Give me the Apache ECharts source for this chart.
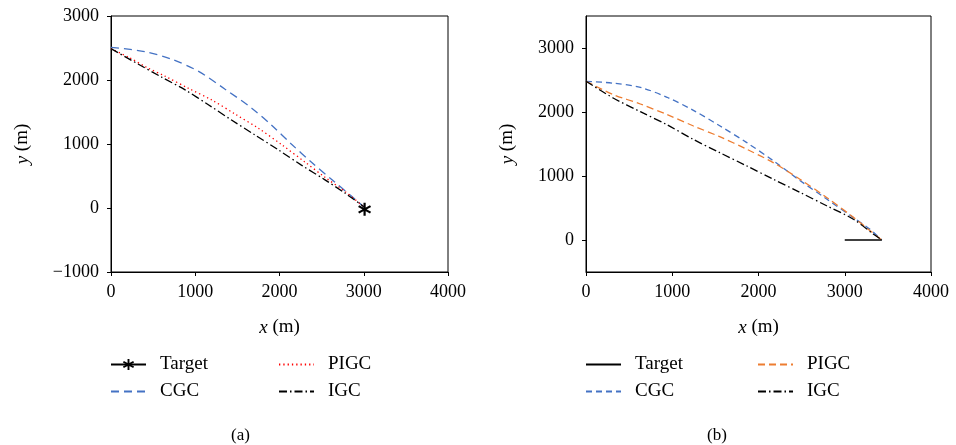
<!DOCTYPE html>
<html>
<head>
<meta charset="utf-8">
<script src="https://cdn.jsdelivr.net/npm/echarts@6/dist/echarts.min.js"></script>
<style>
  html, body { margin: 0; padding: 0; background: #fff; }
  #main { width: 956px; height: 445px; }
</style>
</head>
<body>
<div id="main"></div>
<script>
// panel (a)
var cgcAx = [0, 400, 720, 1040, 1350, 1670, 1910, 2140, 2380, 2620, 2860, 3000];
var cgcAy = [2510, 2445, 2325, 2135, 1860, 1560, 1290, 1000, 715, 445, 180, 20];
var pigcAx = [0, 210, 420, 640, 920, 1200, 1470, 1750, 2030, 2300, 2540, 2780, 2990];
var pigcAy = [2490, 2355, 2200, 2060, 1870, 1685, 1470, 1245, 985, 720, 480, 255, 30];
var igcAx = [0, 320, 600, 880, 1160, 1430, 1710, 1990, 2260, 2540, 2780, 3000];
var igcAy = [2490, 2250, 2045, 1845, 1610, 1375, 1140, 905, 670, 440, 230, 20];
var targetAx = [3010];
var targetAy = [-20];

// panel (b)
var cgcBx = [0, 320, 630, 940, 1240, 1550, 1860, 2170, 2480, 2790, 3100, 3290, 3430];
var cgcBy = [2480, 2450, 2385, 2230, 2030, 1785, 1525, 1240, 930, 640, 350, 170, 0];
var pigcBx = [0, 320, 630, 940, 1240, 1550, 1860, 2170, 2480, 2790, 3100, 3290, 3430];
var pigcBy = [2480, 2270, 2125, 1960, 1785, 1615, 1420, 1210, 950, 665, 355, 150, 0];
var igcBx = [0, 320, 630, 940, 1240, 1550, 1860, 2170, 2480, 2790, 3100, 3330, 3430];
var igcBy = [2480, 2215, 2005, 1800, 1575, 1365, 1160, 950, 745, 535, 325, 95, 0];
var targetBx = [3000, 3430];
var targetBy = [0, 0];

var yTicksB = [0, 1000, 2000, 3000];

var FONT = 'Liberation Serif';
var star = 'path://M8.4,0L11.6,0L11.6,20L8.4,20Z M17.86,3.61L19.46,6.39L2.14,16.39L0.54,13.61Z M2.14,3.61L19.46,13.61L17.86,16.39L0.54,6.39Z';

function zip(xs, ys) {
    return xs.map(function (x, i) { return [x, ys[i]]; });
}

function num(v) {
    return v < 0 ? '\u2212' + Math.abs(v) : String(v);
}

function xAxis(idx) {
    return {
        type: 'value', gridIndex: idx, min: 0, max: 4000, interval: 1000,
        name: '{i|x} (m)', nameLocation: 'middle', nameGap: 46,
        nameTextStyle: { fontFamily: FONT, fontSize: 19, color: '#000',
            rich: { i: { fontFamily: FONT, fontSize: 19, fontStyle: 'italic', color: '#000' } } },
        axisLine: { onZero: false, lineStyle: { color: '#000', width: 1 } },
        axisTick: { show: true, inside: false, length: 4, lineStyle: { color: '#000' } },
        axisLabel: { fontFamily: FONT, fontSize: 18, color: '#000', margin: 11, formatter: num },
        splitLine: { show: false }
    };
}

function yName(gap) {
    return {
        name: '{i|y} (m)', nameLocation: 'middle', nameGap: gap, nameRotate: 90,
        nameTextStyle: { fontFamily: FONT, fontSize: 19, color: '#000',
            rich: { i: { fontFamily: FONT, fontSize: 19, fontStyle: 'italic', color: '#000' } } }
    };
}

var yA = Object.assign({
    type: 'value', gridIndex: 0, min: -1000, max: 3000, interval: 1000,
    axisLine: { show: true, onZero: false, lineStyle: { color: '#000', width: 1 } },
    axisTick: { show: true, length: 4, lineStyle: { color: '#000' } },
    axisLabel: { fontFamily: FONT, fontSize: 18, color: '#000', margin: 12, formatter: num },
    splitLine: { show: false }
}, yName(79));

var yB = Object.assign({
    type: 'value', gridIndex: 1, min: -500, max: 3500,
    axisLine: { show: true, onZero: false, lineStyle: { color: '#000', width: 1 } },
    axisTick: { show: true, length: 4, customValues: yTicksB, lineStyle: { color: '#000' } },
    axisLabel: { fontFamily: FONT, fontSize: 18, color: '#000', margin: 12,
        customValues: yTicksB, formatter: num },
    splitLine: { show: false }
}, yName(69));

function curve(name, idx, data, color, dash, width) {
    return {
        name: name, type: 'line', xAxisIndex: idx, yAxisIndex: idx,
        data: data, smooth: 0.3, symbol: 'none', silent: true,
        lineStyle: { color: color, width: width || 1.3, type: dash },
        itemStyle: { color: color }
    };
}

function item(name) {
    if (name.indexOf('Target (a)') === 0) return { name: name };
    return { name: name, itemStyle: { opacity: 0, borderWidth: 0 } };
}

function legend(left, names) {
    return {
        left: left, top: 355, padding: 0, orient: 'vertical', itemWidth: 35, itemHeight: 14, itemGap: 8,
        data: names.map(item), selectedMode: false,
        formatter: function (n) { return n.replace(/ \([ab]\)$/, ''); },
        textStyle: { fontFamily: FONT, fontSize: 19, color: '#000', padding: [0, 0, 0, 9] }
    };
}

var chart = echarts.init(document.getElementById('main'));
chart.setOption({
    animation: false,
    backgroundColor: '#fff',
    grid: [
        { left: 111, top: 16, width: 337, height: 256, show: true, borderColor: '#000', borderWidth: 1 },
        { left: 586, top: 16, width: 345, height: 256, show: true, borderColor: '#000', borderWidth: 1 }
    ],
    xAxis: [xAxis(0), xAxis(1)],
    yAxis: [yA, yB],
    legend: [
        legend(110, ['Target (a)', 'CGC (a)']),
        legend(278, ['PIGC (a)', 'IGC (a)']),
        legend(585, ['Target (b)', 'CGC (b)']),
        legend(757, ['PIGC (b)', 'IGC (b)'])
    ],
    series: [
        curve('CGC (a)', 0, zip(cgcAx, cgcAy), '#4472c4', [8, 5]),
        curve('PIGC (a)', 0, zip(pigcAx, pigcAy), '#ff0000', [1.3, 3]),
        curve('IGC (a)', 0, zip(igcAx, igcAy), '#000', [8, 3, 1.5, 3]),
        {
            name: 'Target (a)', type: 'line', xAxisIndex: 0, yAxisIndex: 0,
            data: zip(targetAx, targetAy), symbol: star, symbolSize: 13, showSymbol: true,
            lineStyle: { color: '#000', width: 1.3 }, itemStyle: { color: '#000' }, silent: true
        },
        curve('CGC (b)', 1, zip(cgcBx, cgcBy), '#4472c4', [6, 4]),
        curve('PIGC (b)', 1, zip(pigcBx, pigcBy), '#ed7d31', [7, 4]),
        curve('IGC (b)', 1, zip(igcBx, igcBy), '#000', [8, 3, 1.5, 3]),
        {
            name: 'Target (b)', type: 'line', xAxisIndex: 1, yAxisIndex: 1,
            data: zip(targetBx, targetBy), symbol: 'none',
            lineStyle: { color: '#000', width: 1.5 }, itemStyle: { color: '#000' }, silent: true
        }
    ],
    graphic: [
        { type: 'text', left: 231, top: 427, style: { text: '(a)', font: '17px "Liberation Serif"', fill: '#000' } },
        { type: 'text', left: 707, top: 427, style: { text: '(b)', font: '17px "Liberation Serif"', fill: '#000' } }
    ]
});
</script>
</body>
</html>
